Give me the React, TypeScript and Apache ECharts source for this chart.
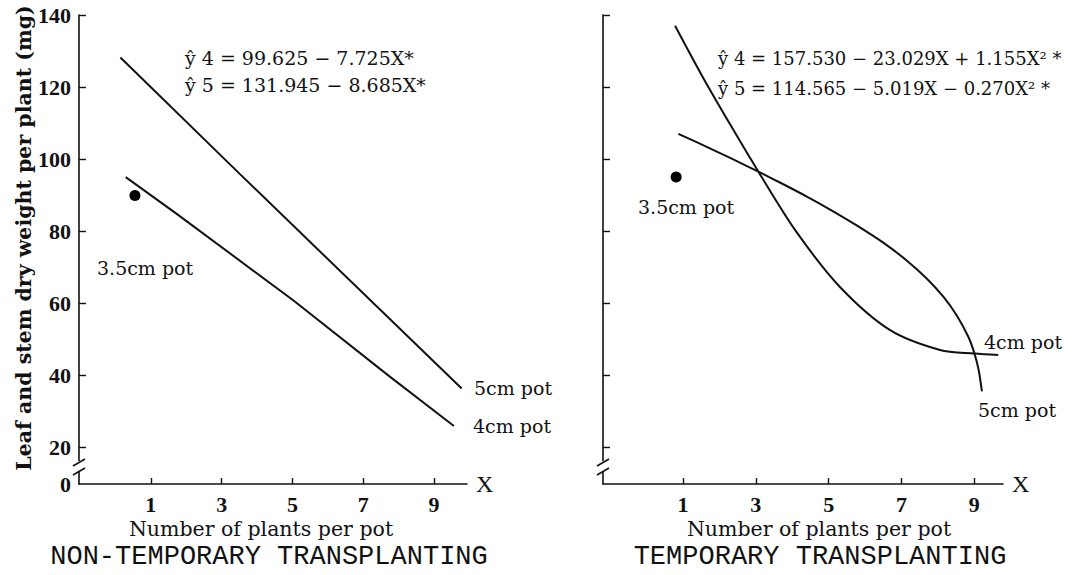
import React, { useEffect, useRef } from "react";
import * as echarts from "echarts";

// axis ticks
const xTicks = [1, 3, 5, 7, 9];
const yTicks = [20, 40, 60, 80, 100, 120, 140];
const yBreakValue = 9.8; // value at which the broken axis meets the x axis (labelled 0)

// NON-TEMPORARY TRANSPLANTING
const nt5cmX = [0.14, 3.51, 9.78];
const nt5cmY = [128.2, 95.9, 36.3];
const nt4cmX = [0.29, 1.73, 5.02, 7.75, 9.56];
const nt4cmY = [95.0, 84.8, 60.8, 39.6, 25.9];
const nt35cmPoint = [0.55, 89.9];

// TEMPORARY TRANSPLANTING
const t4cmX = [0.78, 1.5, 2.3, 3.07, 4.1, 5.31, 6.69, 8.06, 9.0, 9.66];
const t4cmY = [137.0, 123.5, 109.5, 96.5, 80.0, 64.5, 52.5, 47.0, 46.0, 45.6];
const t5cmX = [0.87, 1.65, 2.38, 3.07, 3.66, 4.4, 5.04, 5.77, 6.5, 7.15, 7.7, 8.15, 8.52, 8.84, 9.0, 9.12, 9.21];
const t5cmY = [107.0, 103.4, 99.9, 96.5, 93.5, 89.6, 86.0, 81.6, 76.8, 71.8, 66.8, 61.8, 56.6, 50.6, 46.2, 41.5, 35.5];
const t35cmPoint = [0.81, 95.0];

const zip = (xs: number[], ys: number[]) => xs.map((x, i) => [x, ys[i]]);

const INK = "#111";
const SERIF = "'Liberation Serif', 'DejaVu Serif', serif";
const DSERIF = "'DejaVu Serif', 'Liberation Serif', serif";
const MONO = "'Liberation Mono', 'DejaVu Sans Mono', monospace";

function xAxisCfg(gridIndex: number, min: number, max: number) {
  return {
    type: "value",
    gridIndex,
    min,
    max,
    name: "X",
    nameLocation: "end",
    nameGap: 9,
    nameTextStyle: { color: INK, fontFamily: SERIF, fontSize: 24 },
    axisLine: { show: true, onZero: false, lineStyle: { color: INK, width: 1.6 } },
    axisTick: { show: true, inside: true, length: 6, customValues: xTicks, lineStyle: { color: INK, width: 1.4 } },
    axisLabel: {
      show: true,
      customValues: xTicks,
      color: INK,
      fontFamily: SERIF,
      fontWeight: "bold",
      fontSize: 22,
      margin: 9,
    },
    splitLine: { show: false },
  };
}

function yAxisCfg(gridIndex: number, showLabels: boolean) {
  return {
    type: "value",
    gridIndex,
    min: yBreakValue,
    max: 140,
    axisLine: { show: true, onZero: false, lineStyle: { color: INK, width: 1.6 } },
    axisTick: { show: true, inside: true, length: 7, customValues: yTicks, lineStyle: { color: INK, width: 1.4 } },
    axisLabel: {
      show: showLabels,
      customValues: [yBreakValue, ...yTicks],
      formatter: (v: number) => (v < 15 ? "0" : String(Math.round(v))),
      color: INK,
      fontFamily: SERIF,
      fontWeight: "bold",
      fontSize: 22,
      margin: 8,
    },
    splitLine: { show: false },
  };
}

function breakMarks(x0: number) {
  return [
    { type: "rect", z: 100, shape: { x: x0 - 3, y: 461, width: 6, height: 11 }, style: { fill: "#fff" } },
    { type: "line", z: 101, shape: { x1: x0 - 6, y1: 466, x2: x0 + 6, y2: 459 }, style: { stroke: INK, lineWidth: 1.6 } },
    { type: "line", z: 101, shape: { x1: x0 - 6, y1: 475, x2: x0 + 6, y2: 468 }, style: { stroke: INK, lineWidth: 1.6 } },
  ];
}

function txt(text: string, x: number, y: number, font: string, size: number, align = "left", weight = "normal", rotation = 0) {
  return {
    type: "text",
    z: 110,
    x,
    y,
    rotation,
    style: {
      text,
      fill: INK,
      font: `${weight} ${size}px ${font}`,
      align,
      verticalAlign: "middle",
    },
  };
}

export default function App() {
  const ref = useRef<HTMLDivElement>(null);

  useEffect(() => {
    document.body.style.margin = "0";
    if (!ref.current) return;
    const chart = echarts.init(ref.current, undefined, { renderer: "svg" });

    const lineStyle = { color: INK, width: 2 };
    const dotStyle = { color: "#000", opacity: 1 };

    chart.setOption({
      animation: false,
      backgroundColor: "#fff",
      grid: [
        { left: 79, top: 15, width: 388, height: 469 },
        { left: 603, top: 15, width: 400, height: 469 },
      ],
      xAxis: [xAxisCfg(0, -1.03, 9.93), xAxisCfg(1, -1.2, 9.79)],
      yAxis: [yAxisCfg(0, true), yAxisCfg(1, false)],
      series: [
        { type: "line", name: "5cm pot (non-temporary)", xAxisIndex: 0, yAxisIndex: 0, data: zip(nt5cmX, nt5cmY), showSymbol: false, symbol: "none", lineStyle },
        { type: "line", name: "4cm pot (non-temporary)", xAxisIndex: 0, yAxisIndex: 0, data: zip(nt4cmX, nt4cmY), showSymbol: false, symbol: "none", lineStyle },
        { type: "scatter", name: "3.5cm pot (non-temporary)", xAxisIndex: 0, yAxisIndex: 0, data: [nt35cmPoint], symbolSize: 11, itemStyle: dotStyle },
        { type: "line", name: "4cm pot (temporary)", xAxisIndex: 1, yAxisIndex: 1, data: zip(t4cmX, t4cmY), smooth: 0.3, showSymbol: false, symbol: "none", lineStyle },
        { type: "line", name: "5cm pot (temporary)", xAxisIndex: 1, yAxisIndex: 1, data: zip(t5cmX, t5cmY), smooth: 0.3, showSymbol: false, symbol: "none", lineStyle },
        { type: "scatter", name: "3.5cm pot (temporary)", xAxisIndex: 1, yAxisIndex: 1, data: [t35cmPoint], symbolSize: 11, itemStyle: dotStyle },
      ],
      graphic: [
        ...breakMarks(79),
        ...breakMarks(603),
        txt("Leaf and stem dry weight per plant (mg)", 24, 238, DSERIF, 20.5, "center", "bold", Math.PI / 2),
        txt("ŷ 4 = 99.625 − 7.725X*", 185, 58, DSERIF, 19),
        txt("ŷ 5 = 131.945 − 8.685X*", 185, 85, DSERIF, 19),
        txt("ŷ 4 = 157.530 − 23.029X + 1.155X² *", 718, 58, DSERIF, 18),
        txt("ŷ 5 = 114.565 − 5.019X − 0.270X² *", 718, 88, DSERIF, 18),
        txt("3.5cm pot", 97, 268, DSERIF, 19),
        txt("3.5cm pot", 638, 207, DSERIF, 19),
        txt("5cm pot", 474, 388, DSERIF, 19),
        txt("4cm pot", 473, 426, DSERIF, 19),
        txt("4cm pot", 984, 342, DSERIF, 19),
        txt("5cm pot", 978, 410, DSERIF, 19),
        txt("Number of plants per pot", 261, 529, DSERIF, 20.5, "center"),
        txt("Number of plants per pot", 819, 529, DSERIF, 20.5, "center"),
        txt("NON-TEMPORARY TRANSPLANTING", 269, 557, MONO, 27, "center"),
        txt("TEMPORARY TRANSPLANTING", 820, 557, MONO, 27, "center"),
      ],
    });

    return () => chart.dispose();
  }, []);

  return <div ref={ref} style={{ width: 1081, height: 575 }} />;
}
